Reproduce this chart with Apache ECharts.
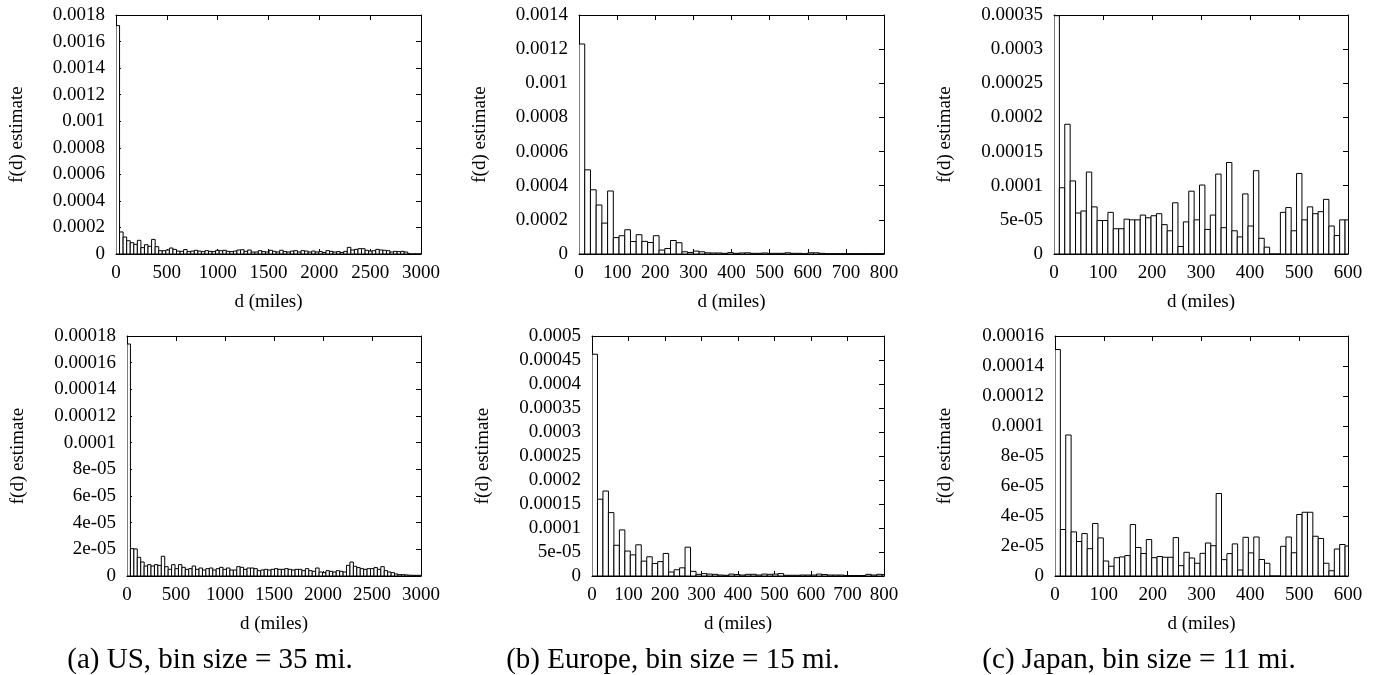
<!DOCTYPE html>
<html>
<head>
<meta charset="utf-8">
<title>f(d) estimate histograms</title>
<script src="https://cdn.jsdelivr.net/npm/echarts@6/dist/echarts.min.js"></script>
<style>
  html, body { margin: 0; padding: 0; background: #fff; }
  #chart { width: 1377px; height: 675px; }
</style>
</head>
<body>
<div id="chart"></div>
<script>
// bar heights are in units of 1e-6 (f(d) estimate), one per bin starting at d = 0
const usBin = 35
const usTop = [1720, 166, 128, 100, 85, 73, 103, 48, 70, 58, 110, 55, 25, 25, 30, 45, 35, 22, 20, 33,
  18, 22, 28, 22, 18, 25, 20, 18, 28, 25, 28, 20, 18, 22, 30, 32, 20, 30, 15, 15,
  25, 18, 15, 28, 20, 15, 28, 18, 15, 22, 25, 15, 25, 22, 15, 22, 15, 18, 12, 25,
  20, 15, 18, 12, 20, 50, 30, 35, 40, 40, 28, 22, 25, 35, 30, 28, 25, 15, 20, 18,
  20, 15, 2, 1, 1, 1]
const usBottom = [174, 20.5, 20.3, 14, 10.5, 7.5, 8.5, 7.5, 8.5, 8, 14.8, 7, 5, 8.5, 5.5, 8.5, 6.5, 5, 5.5, 7.5,
  5, 6, 4.5, 5.5, 6, 4.5, 5.5, 6.5, 5, 6, 4.5, 4.5, 7, 6.5, 5, 6, 6, 5.5, 4, 4.5,
  5, 4.5, 5, 5.5, 5, 5, 5.5, 5, 4.5, 5, 5, 4, 5.5, 4, 3.5, 6, 3, 2.5, 4, 3.5,
  3, 4, 3.5, 3, 8, 10.5, 7.3, 6.3, 5.5, 5, 5.5, 5.5, 6.3, 5, 7, 4, 3, 2.5, 1.5, 1,
  1, 0.8, 0.6, 0.5, 0.5, 0.5]

const euBin = 15
const euTop = [1230, 493, 376, 287, 181, 369, 96, 107, 142, 73, 113, 74, 67, 107, 23, 32, 79, 66, 13, 9,
  17, 13, 7, 6, 6, 4, 8, 4, 6, 7, 4, 4, 6, 4, 4, 4, 7, 4, 4, 2,
  7, 7, 4, 2, 2, 2, 2, 2, 2, 2, 2, 2, 2, 2]
const euBottom = [462, 160, 177, 132, 64, 96, 52, 44, 65, 31, 40, 26, 30, 47, 8.3, 13, 17, 60, 9.7, 3.5,
  4.9, 4, 3.5, 2, 1.5, 4, 3, 2, 3.5, 3.5, 2, 4, 3.5, 4, 5, 1.5, 1.5, 1.5, 2, 2,
  2, 4, 3, 2, 2, 2, 1, 1, 1, 1, 3.5, 2, 3.5, 3]

const jpBin = 11
const jpTop = [349, 97, 190, 107, 60, 63, 120, 69, 49, 49, 61, 37, 37, 51, 50, 50, 57, 53, 56, 59,
  43, 34, 75, 11, 47, 92, 50, 101, 36, 57, 117, 38.5, 134, 34, 25, 88, 41, 122, 23, 10,
  0, 0, 61, 68, 34, 118, 50, 69, 59, 62, 80, 41, 27, 50, 50]
const jpBottom = [151, 31, 94, 29.4, 23, 28.3, 18.2, 35, 25.4, 10, 6.5, 12.2, 12.7, 13.6, 34.3, 19, 15, 24.3, 12.2, 13,
  12.5, 12.5, 25.6, 6.9, 15.8, 12, 8.5, 15.1, 22, 20.2, 55, 10.9, 14.9, 21.4, 4, 25.8, 15.4, 26, 11, 8.5,
  0, 0, 19.8, 26, 15.5, 41, 42.5, 42.5, 26.5, 25, 8.5, 3.5, 18, 21, 20]

const captions = ['(a) US, bin size = 35 mi.', '(b) Europe, bin size = 15 mi.', '(c) Japan, bin size = 11 mi.']
const xTitle = 'd (miles)'
const yTitle = 'f(d) estimate'

const FONT = '"Liberation Serif", "Times New Roman", serif'

// one entry per panel: grid box, axis ranges (y in 1e-6 units), data
const panels = [
  {box: {left: 116, top: 15, width: 305, height: 239}, xMax: 3000, xStep: 500, yMax: 1800, yStep: 200, bin: usBin, values: usTop, yGap: 89},
  {box: {left: 579, top: 15, width: 305, height: 239}, xMax: 800, xStep: 100, yMax: 1400, yStep: 200, bin: euBin, values: euTop, yGap: 89},
  {box: {left: 1054, top: 15, width: 294, height: 239}, xMax: 600, xStep: 100, yMax: 350, yStep: 50, bin: jpBin, values: jpTop, yGap: 99},
  {box: {left: 127, top: 336, width: 294, height: 240}, xMax: 3000, xStep: 500, yMax: 180, yStep: 20, bin: usBin, values: usBottom, yGap: 99},
  {box: {left: 592, top: 336, width: 292, height: 240}, xMax: 800, xStep: 100, yMax: 500, yStep: 50, bin: euBin, values: euBottom, yGap: 99},
  {box: {left: 1055, top: 336, width: 293, height: 240}, xMax: 600, xStep: 100, yMax: 160, yStep: 20, bin: jpBin, values: jpBottom, yGap: 100}
]
const captionX = [210, 673, 1139]

// gnuplot-like %g labels: 0.0018, 0.0001, 8e-05 ...
function fmtY(v) {
  if (v === 0) return '0'
  const x = parseFloat((v * 1e-6).toPrecision(6))
  if (x < 1e-4 - 1e-12) return x.toExponential().replace(/e-(\d)$/, 'e-0$1')
  return String(x)
}

const black = {color: '#000', width: 1}
const tick = {show: true, inside: true, length: 5, lineStyle: black}

const chart = echarts.init(document.getElementById('chart'))

const grid = [], xAxis = [], yAxis = [], series = []
panels.forEach((p, i) => {
  grid.push(Object.assign({show: false, outerBoundsMode: 'none'}, p.box))
  // bottom + top x axes (top only mirrors the ticks)
  xAxis.push({
    type: 'value', gridIndex: i, position: 'bottom', min: 0, max: p.xMax, interval: p.xStep,
    name: xTitle, nameLocation: 'middle', nameGap: 39,
    nameTextStyle: {fontFamily: FONT, fontSize: 19, color: '#000'},
    axisLine: {show: true, onZero: false, lineStyle: black},
    axisTick: tick,
    axisLabel: {margin: 10, fontFamily: FONT, fontSize: 19, color: '#000', formatter: v => String(v),
      showMinLabel: true, showMaxLabel: true},
    splitLine: {show: false}
  })
  xAxis.push({
    type: 'value', gridIndex: i, position: 'top', min: 0, max: p.xMax, interval: p.xStep,
    axisLine: {show: true, onZero: false, lineStyle: black},
    axisTick: tick, axisLabel: {show: false}, splitLine: {show: false}
  })
  yAxis.push({
    type: 'value', gridIndex: i, position: 'left', min: 0, max: p.yMax, interval: p.yStep,
    name: yTitle, nameLocation: 'middle', nameGap: p.yGap,
    nameTextStyle: {fontFamily: FONT, fontSize: 19, color: '#000'},
    axisLine: {show: true, onZero: false, lineStyle: black},
    axisTick: tick,
    axisLabel: {margin: 11, fontFamily: FONT, fontSize: 19, color: '#000', formatter: fmtY,
      showMinLabel: true, showMaxLabel: true},
    splitLine: {show: false}
  })
  yAxis.push({
    type: 'value', gridIndex: i, position: 'right', min: 0, max: p.yMax, interval: p.yStep,
    axisLine: {show: true, onZero: false, lineStyle: black},
    axisTick: tick, axisLabel: {show: false}, splitLine: {show: false}
  })
  series.push({
    type: 'custom',
    xAxisIndex: i * 2,
    yAxisIndex: i * 2,
    clip: true,
    silent: true,
    data: p.values.map((v, k) => [k * p.bin, (k + 1) * p.bin, v]),
    encode: {x: [0, 1], y: 2},
    renderItem(params, api) {
      const top = api.coord([api.value(0), api.value(2)])
      const base = api.coord([api.value(1), 0])
      return {
        type: 'rect',
        shape: {x: top[0], y: top[1], width: base[0] - top[0], height: base[1] - top[1]},
        style: {fill: '#fff', stroke: '#000', lineWidth: 1}
      }
    }
  })
})

chart.setOption({
  animation: false,
  backgroundColor: '#fff',
  grid, xAxis, yAxis, series,
  graphic: captions.map((c, i) => ({
    type: 'text',
    x: captionX[i],
    y: 660,
    style: {
      text: c, font: '29px ' + FONT, fill: '#000',
      align: 'center', verticalAlign: 'middle',
      textAlign: 'center', textVerticalAlign: 'middle'
    }
  }))
})

window.addEventListener('resize', () => chart.resize())
</script>
</body>
</html>
